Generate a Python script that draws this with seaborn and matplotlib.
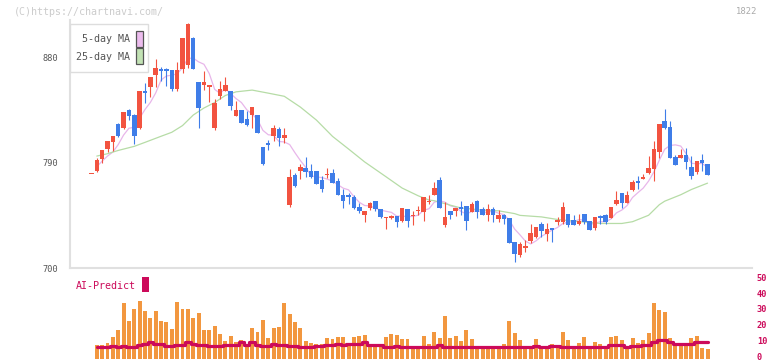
import numpy as np
import pandas as pd
import matplotlib
matplotlib.use("Agg")
import matplotlib.pyplot as plt
import matplotlib.transforms as mtransforms
from matplotlib.patches import Rectangle
import seaborn as sns

sns.set_theme(style="white")
plt.rcParams['font.family'] = ['DejaVu Sans Mono', 'DejaVu Sans']

# daily candles (yen)
opens = [780.5, 783.0, 793.3, 801.8, 807.6, 823.0, 819.4, 834.7, 830.5, 819.4,
         851.2, 854.6, 864.7, 869.8, 870.0, 868.9, 852.7, 869.7, 873.0, 896.2,
         858.8, 856.5, 854.6, 819.7, 847.0, 851.2, 851.0, 829.9, 834.7, 827.1,
         830.2, 830.5, 803.2, 806.6, 812.5, 818.5, 811.1, 753.8, 779.4, 782.8,
         785.3, 783.1, 782.8, 775.1, 779.4, 781.1, 774.2, 762.3, 762.3, 760.6,
         752.1, 745.2, 751.2, 757.2, 750.4, 743.0, 742.7, 744.3, 740.1, 750.3,
         744.3, 748.6, 747.7, 756.5, 762.2, 775.0, 736.6, 748.6, 748.6, 752.0,
         752.9, 747.7, 757.1, 750.3, 745.2, 750.3, 741.8, 745.2, 742.6, 722.1,
         711.0, 717.0, 723.0, 726.4, 737.5, 729.0, 734.1, 739.2, 739.2, 746.0,
         740.9, 737.5, 746.0, 740.0, 734.1, 744.3, 745.2, 742.6, 754.6, 764.0,
         755.4, 766.5, 774.2, 775.9, 781.0, 784.4, 798.9, 825.4, 820.3, 794.7,
         793.8, 796.4, 786.1, 781.9, 792.1, 788.7]
highs = [780.5, 793.9, 801.0, 808.4, 812.6, 824.0, 833.4, 835.9, 831.4, 851.0,
         857.8, 862.8, 878.2, 871.8, 870.9, 868.9, 875.7, 896.4, 908.7, 897.0,
         858.8, 868.0, 856.4, 844.0, 859.8, 863.0, 851.0, 842.8, 834.7, 833.9,
         837.3, 830.5, 803.2, 809.1, 821.9, 820.2, 819.4, 784.5, 781.0, 788.8,
         794.7, 788.8, 782.8, 778.5, 785.3, 784.5, 776.8, 767.4, 764.3, 762.3,
         755.5, 748.9, 756.6, 757.2, 750.4, 743.5, 745.2, 744.3, 751.1, 750.3,
         748.6, 752.9, 760.5, 762.2, 773.3, 777.6, 756.3, 748.6, 751.1, 757.1,
         752.9, 756.3, 758.0, 752.0, 754.6, 752.0, 749.4, 746.0, 742.6, 722.1,
         722.1, 723.8, 737.5, 734.9, 739.2, 738.3, 734.1, 743.5, 756.3, 746.0,
         745.2, 746.0, 746.0, 740.0, 743.5, 745.2, 746.0, 752.0, 765.7, 764.0,
         765.7, 775.0, 778.5, 780.2, 795.5, 808.3, 822.8, 835.6, 825.4, 796.4,
         801.5, 802.3, 795.5, 791.3, 797.2, 788.7]
lows = [780.5, 781.9, 789.2, 798.9, 799.8, 811.4, 818.6, 826.2, 805.7, 818.6,
        841.0, 846.1, 854.2, 859.5, 855.5, 851.2, 851.2, 866.6, 871.0, 869.5,
        819.7, 852.0, 841.8, 817.8, 844.1, 851.2, 834.7, 829.9, 823.9, 820.8,
        819.7, 815.4, 787.9, 800.6, 808.3, 804.3, 806.6, 752.2, 769.5, 776.0,
        777.9, 777.0, 772.0, 765.1, 776.8, 772.8, 762.6, 751.5, 754.6, 750.0,
        747.0, 739.6, 749.5, 748.7, 742.7, 733.3, 741.5, 735.2, 739.2, 735.2,
        736.6, 745.2, 740.1, 754.6, 762.2, 751.1, 734.9, 741.8, 744.3, 745.2,
        732.4, 747.7, 742.6, 745.2, 740.1, 739.2, 739.2, 737.5, 721.6, 705.1,
        709.3, 713.6, 721.3, 725.5, 726.4, 723.0, 722.1, 736.6, 737.5, 734.9,
        736.6, 736.6, 737.5, 732.4, 732.4, 737.5, 737.5, 742.6, 753.7, 751.2,
        755.4, 765.7, 767.4, 775.9, 780.2, 774.2, 793.8, 818.6, 793.8, 787.8,
        793.8, 784.4, 775.9, 780.2, 782.7, 779.3]
closes = [780.5, 792.4, 800.7, 808.4, 812.6, 812.4, 833.0, 829.8, 812.9, 851.0,
          849.7, 862.8, 870.6, 867.8, 868.4, 852.7, 869.0, 896.2, 907.8, 869.7,
          836.7, 858.8, 856.2, 840.7, 852.7, 856.1, 838.4, 834.7, 824.0, 821.9,
          837.3, 815.4, 788.7, 805.2, 819.4, 811.1, 813.4, 777.5, 770.0, 786.5,
          781.9, 777.7, 772.0, 767.7, 780.2, 772.8, 762.6, 757.2, 760.6, 751.2,
          748.7, 748.9, 755.5, 750.4, 743.5, 743.5, 744.4, 739.5, 751.1, 740.1,
          745.2, 749.4, 760.5, 757.4, 768.2, 751.1, 743.5, 745.2, 751.1, 750.3,
          740.1, 754.6, 747.7, 745.2, 750.3, 745.2, 745.2, 741.8, 721.6, 712.2,
          720.4, 718.7, 729.8, 734.9, 731.5, 733.2, 732.4, 740.9, 752.0, 736.6,
          736.6, 740.0, 739.2, 732.4, 743.5, 742.6, 739.2, 752.0, 758.0, 755.4,
          762.2, 773.3, 772.5, 777.6, 785.3, 801.5, 822.8, 819.4, 793.8, 787.8,
          796.4, 790.4, 778.5, 791.3, 789.5, 779.3]

# 25-day MA sampled from the chart (candle index, yen)
ma25_idx = [1, 3, 5, 8, 10, 13, 15, 17, 19, 21, 23, 25, 27, 30, 33, 36, 39, 42,
            45, 48, 51, 55, 58, 61, 63, 64, 67, 69, 73, 76, 79, 80, 84, 87, 91,
            95, 99, 101, 104, 106, 107, 110, 112, 115]
ma25_val = [795.5, 797.5, 800.3, 803.8, 807.2, 812.4, 815.8, 821.5, 830.5, 836.5,
            841.2, 847.2, 850.3, 851.8, 849.2, 846.5, 837.3, 826.2, 812.3, 801.5,
            790.5, 777.8, 768.2, 761.6, 758.0, 757.4, 753.6, 751.2, 749.4, 748.8,
            746.4, 744.9, 743.6, 741.4, 739.6, 738.0, 738.0, 739.5, 745.0, 754.0,
            757.0, 762.5, 767.0, 772.4]

# lower panel, candles 1..115
volume = [8.6, 8.6, 10.1, 13.9, 18.1, 35.3, 23.7, 31.3, 36.6, 30.0,
          25.8, 30.0, 23.7, 23.1, 18.7, 35.9, 31.5, 31.5, 25.8, 29.0,
          18.1, 18.1, 20.6, 15.5, 11.3, 14.3, 10.7, 11.8, 9.7, 19.3,
          17.0, 24.4, 13.0, 19.3, 20.2, 35.3, 28.4, 23.3, 19.3, 11.3,
          10.1, 9.2, 9.2, 13.0, 12.4, 13.7, 13.7, 10.1, 13.7, 14.3,
          15.1, 8.6, 9.2, 9.2, 13.7, 16.0, 14.9, 12.4, 12.4, 7.1,
          7.1, 14.3, 9.2, 17.0, 13.0, 27.1, 13.0, 14.3, 11.1, 18.1,
          12.4, 7.6, 7.6, 7.6, 7.6, 7.6, 9.2, 23.7, 16.2, 11.8,
          6.1, 7.1, 12.4, 7.6, 6.7, 9.2, 7.6, 16.8, 11.8, 7.6,
          9.9, 13.7, 7.6, 10.5, 9.2, 8.0, 13.7, 14.3, 11.8, 7.6,
          13.0, 9.9, 11.8, 16.2, 35.1, 30.7, 29.4, 13.0, 9.2, 8.0,
          8.0, 13.0, 14.3, 6.7, 6.1]
ai_pred = [7.8, 7.8, 7.8, 8.4, 7.8, 8.4, 7.8, 7.8, 9.0, 9.7,
           10.5, 9.7, 9.7, 8.4, 8.4, 9.0, 9.0, 10.9, 9.7, 9.0,
           9.0, 8.4, 8.4, 8.4, 9.0, 9.0, 9.0, 10.5, 9.0, 10.5,
           9.0, 8.4, 8.4, 9.7, 9.0, 9.0, 8.4, 8.4, 7.8, 7.8,
           7.8, 8.4, 8.4, 9.0, 9.0, 9.7, 9.0, 9.7, 9.7, 9.7,
           10.5, 9.0, 9.0, 9.0, 7.8, 7.8, 8.4, 7.6, 7.6, 7.6,
           7.6, 7.6, 7.6, 7.6, 8.8, 7.6, 7.6, 7.6, 7.6, 7.6,
           7.6, 7.6, 7.6, 7.6, 7.6, 7.6, 7.6, 7.6, 7.6, 7.6,
           7.6, 7.6, 8.2, 7.6, 7.6, 8.2, 8.2, 7.6, 7.6, 7.6,
           7.6, 7.6, 7.6, 7.6, 7.6, 7.6, 8.8, 8.8, 8.8, 7.6,
           8.4, 8.4, 8.8, 8.8, 10.5, 12.0, 12.0, 11.0, 9.5, 9.5,
           9.5, 9.5, 10.7, 10.5, 10.5]

date_idx = [15, 25, 35, 45, 55, 65, 75, 85, 95, 105, 115]
date_labels = ['2/25', '3/11', '3/26', '4/9', '4/23', '5/13', '5/27',
               '6/10', '6/24', '7/8', '7/23']
price_ticks = [700, 790, 880]
sub_ticks = [0, 10, 20, 30, 40, 50]

RED = '#f25340'
BLUE = '#3f7de8'
PINK = '#e8b6ea'
GREEN = '#b6dca6'
ORANGE = '#f2973f'
CRIMSON = '#cc0a5a'
GRID = '#e0e0e0'

df = pd.DataFrame({'open': opens, 'high': highs, 'low': lows, 'close': closes})
df['x'] = np.arange(len(df))
df['up'] = df['close'] >= df['open']
df['ma5'] = df['close'].rolling(5, min_periods=1).mean()

sub = pd.DataFrame({'x': np.arange(1, len(df)), 'vol': volume, 'ai': ai_pred})

W, H = 772, 361
fig = plt.figure(figsize=(W / 100, H / 100), dpi=100)
xlim = (-4.0, 123.3)

# --- price panel
ax = fig.add_axes([70 / W, 1 - 268 / H, 682 / W, 248 / H])
ax.set_xlim(*xlim)
ax.set_ylim(700, 911.6)

sns.lineplot(data=df.iloc[1:], x='x', y='ma5', ax=ax, color=PINK, lw=0.9, zorder=1)
sns.lineplot(x=ma25_idx, y=ma25_val, ax=ax, color=GREEN, lw=0.9, zorder=1)

colors = np.where(df['up'], RED, BLUE)
ax.vlines(df['x'], df['low'], df['high'], colors=colors, lw=0.8, zorder=2)
body_lo = df[['open', 'close']].min(axis=1)
body_h = (df['close'] - df['open']).abs().clip(lower=0.9)
ax.bar(df['x'], body_h, bottom=body_lo, width=0.84, color=colors, lw=0, zorder=3)

for s in ['top', 'right']:
    ax.spines[s].set_visible(False)
for s in ['left', 'bottom']:
    ax.spines[s].set_color(GRID)
    ax.spines[s].set_linewidth(1.5)
ax.set_yticks(price_ticks)
ax.set_yticklabels([str(v) for v in price_ticks])
ax.set_xticks(np.linspace(xlim[0], xlim[1], 12))
ax.set_xticklabels([])
ax.tick_params(axis='y', direction='out', length=5, width=1.2, color=GRID,
               labelsize=6.2, labelcolor='#555555', pad=3.5)
ax.tick_params(axis='x', direction='out', length=4.5, width=1.5, color=GRID)
ax.set_xlabel('')
ax.set_ylabel('')

trans = mtransforms.blended_transform_factory(ax.transData, ax.transAxes)
for i, lab in zip(date_idx, date_labels):
    ax.text(i, -0.062, lab, transform=trans, ha='center', va='center',
            fontsize=6.4, color='#555555', clip_on=False)

# --- lower panel
ax2 = fig.add_axes([70 / W, 1 - 359 / H, 682 / W, 82 / H])
ax2.set_xlim(*xlim)
ax2.set_ylim(0, 82 / 1.587)
ax2.bar(sub['x'], sub['vol'], width=0.74, color=ORANGE, lw=0, zorder=1)
sns.lineplot(data=sub, x='x', y='ai', ax=ax2, color=CRIMSON, lw=2.3,
             drawstyle='steps-mid', zorder=2)
for s in ax2.spines.values():
    s.set_visible(False)
ax2.set_xticks([])
ax2.yaxis.tick_right()
ax2.set_yticks(sub_ticks)
ax2.set_yticklabels([str(v) for v in sub_ticks])
ax2.tick_params(axis='y', length=0, pad=3.5, labelsize=6.2, labelcolor=CRIMSON)
lift = mtransforms.ScaledTranslation(0, 2.5 / 100, fig.dpi_scale_trans)
for lab in ax2.get_yticklabels():
    lab.set_fontweight('bold')
    lab.set_transform(lab.get_transform() + lift)
ax2.set_xlabel('')
ax2.set_ylabel('')

# --- legend box and labels
def fig_rect(x0, y0, x1, y1, **kw):
    fig.patches.append(Rectangle((x0 / W, 1 - y1 / H), (x1 - x0) / W, (y1 - y0) / H,
                                 transform=fig.transFigure, **kw))

fig_rect(70, 24, 148, 72, facecolor='white', edgecolor='#dddddd', lw=1.0, zorder=5)
fig_rect(136, 31, 143, 47, facecolor='#ecbcee', edgecolor='#555555', lw=0.9, zorder=6)
fig_rect(136, 48.5, 143, 63.5, facecolor='#c2e2b4', edgecolor='#555555', lw=0.9, zorder=6)
fig.text(130 / W, 1 - 39.5 / H, '5-day MA', ha='right', va='center', fontsize=7.2,
         color='#555555', zorder=7)
fig.text(130 / W, 1 - 56.5 / H, '25-day MA', ha='right', va='center', fontsize=7.2,
         color='#555555', zorder=7)

fig.text(14 / W, 1 - 12 / H, '(C)https://chartnavi.com/', ha='left', va='center',
         fontsize=7.2, color='#cccccc')
fig.text(757 / W, 1 - 12 / H, '1822', ha='right', va='center', fontsize=6.4,
         color='#aaaaaa')

fig.text(76 / W, 1 - 286 / H, 'AI-Predict', ha='left', va='center', fontsize=7.2,
         color=CRIMSON)
fig_rect(142, 277, 149, 292, facecolor=CRIMSON, edgecolor='none', zorder=6)

fig.savefig('out.png', dpi=100)
